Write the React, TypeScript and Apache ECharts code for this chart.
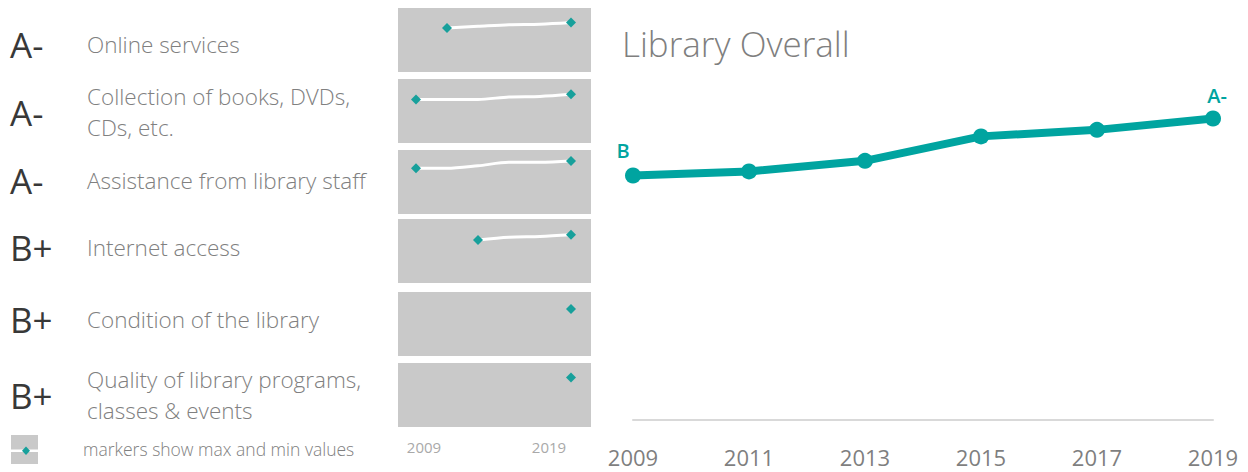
import React, { useEffect, useRef } from "react";
import * as echarts from "echarts";

// ---- data ----
const grades = ["A-", "A-", "A-", "B+", "B+", "B+"];
const categories = [
  "Online services",
  "Collection of books, DVDs,\nCDs, etc.",
  "Assistance from library staff",
  "Internet access",
  "Condition of the library",
  "Quality of library programs,\nclasses & events",
];
const sparkYears = [2009, 2011, 2013, 2015, 2017, 2019];
const sparkOnline = [null, 3.53, 3.57, 3.61, 3.62, 3.66];
const sparkCollection = [3.52, 3.52, 3.52, 3.58, 3.59, 3.64];
const sparkStaff = [3.57, 3.57, 3.63, 3.71, 3.71, 3.74];
const sparkInternet = [null, null, 3.51, 3.57, 3.59, 3.63];
const sparkCondition = [null, null, null, null, null, 3.6];
const sparkPrograms = [null, null, null, null, null, 3.66];
const sparkRows = [sparkOnline, sparkCollection, sparkStaff, sparkInternet, sparkCondition, sparkPrograms];
const sparkAxisLabels = ["2009", "2019"];

const years = ["2009", "2011", "2013", "2015", "2017", "2019"];
const overallScores = [3.0, 3.05, 3.18, 3.48, 3.56, 3.7];
const overallStartGrade = "B";
const overallEndGrade = "A-";
const chartTitle = "Library Overall";
const legendNote = "markers show max and min values";

// ---- style ----
const TEAL = "#00a4a0";
const MARK = "#17a09b";
const PANEL = "#c9c9c9";
const FONT = "'Open Sans', 'Noto Sans', sans-serif";

export default function App() {
  const ref = useRef<HTMLDivElement>(null);

  useEffect(() => {
    if (!ref.current) return;
    const chart = echarts.init(ref.current, undefined, { renderer: "svg" });

    const panelTops = [8, 79, 150, 219, 292, 363];
    const panelH = 64;
    const rowCenters = [44, 112, 180, 247, 319, 395];

    const grids: any[] = [];
    const xAxes: any[] = [];
    const yAxes: any[] = [];
    const series: any[] = [];

    sparkRows.forEach((row, i) => {
      grids.push({
        left: 398,
        top: panelTops[i],
        width: 193,
        height: panelH,
        show: true,
        backgroundColor: PANEL,
        borderWidth: 0,
      });
      xAxes.push({ type: "value", gridIndex: i, min: 2007.84, max: 2020.29, show: false });
      yAxes.push({ type: "value", gridIndex: i, min: 2.5, max: 4.0, show: false });
      const vals = row.map((v) => (v == null ? NaN : v));
      const present = vals.filter((v) => !isNaN(v));
      const mn = Math.min(...present);
      const mx = Math.max(...present);
      const minIdx = vals.indexOf(mn);
      const maxIdx = vals.indexOf(mx);
      const data: any[] = [];
      row.forEach((v, j) => {
        if (v == null) return;
        const isMark = j === minIdx || j === maxIdx;
        data.push({
          value: [sparkYears[j], v],
          symbol: isMark ? "diamond" : "none",
          symbolSize: 10,
          itemStyle: { color: MARK },
        });
      });
      series.push({
        type: "line",
        xAxisIndex: i,
        yAxisIndex: i,
        data,
        smooth: 0.3,
        showSymbol: true,
        symbol: "none",
        lineStyle: { color: "#ffffff", width: 3 },
        itemStyle: { color: MARK },
        silent: true,
        clip: false,
        z: 3,
      });
    });

    // main chart
    grids.push({ left: 633, right: 35, top: 94, bottom: 52 });
    xAxes.push({
      type: "category",
      gridIndex: 6,
      data: years,
      boundaryGap: false,
      axisLine: { show: true, lineStyle: { color: "#d9d9d9", width: 2 } },
      axisTick: { show: false },
      axisLabel: { color: "#7f7f7f", fontSize: 22, fontFamily: FONT, margin: 26 },
      splitLine: { show: false },
    });
    yAxes.push({ type: "value", gridIndex: 6, min: 0, max: 4, show: false });
    series.push({
      type: "line",
      xAxisIndex: 6,
      yAxisIndex: 6,
      data: overallScores.map((v, j) => {
        const item: any = { value: v };
        if (j === 0) {
          item.label = { show: true, formatter: overallStartGrade, position: "top", offset: [-10, -2] };
        } else if (j === overallScores.length - 1) {
          item.label = { show: true, formatter: overallEndGrade, position: "top", offset: [4, 0] };
        }
        return item;
      }),
      symbol: "circle",
      symbolSize: 16,
      lineStyle: { color: TEAL, width: 8 },
      itemStyle: { color: TEAL },
      label: { show: false, color: TEAL, fontSize: 20, fontWeight: 600, fontFamily: FONT },
      clip: false,
      z: 3,
    });

    const graphics: any[] = [];
    grades.forEach((g, i) => {
      graphics.push({
        type: "text",
        x: 10,
        y: rowCenters[i],
        style: {
          text: g,
          fill: "#383838",
          fontSize: 35,
          fontFamily: FONT,
          fontWeight: 400,
          align: "left",
          verticalAlign: "middle",
          textAlign: "left",
          textVerticalAlign: "middle",
        },
      });
      graphics.push({
        type: "text",
        x: 87,
        y: rowCenters[i],
        style: {
          text: categories[i],
          fill: "#808080",
          fontSize: 22.5,
          lineHeight: 31,
          fontFamily: FONT,
          fontWeight: 300,
          align: "left",
          verticalAlign: "middle",
          textAlign: "left",
          textVerticalAlign: "middle",
        },
      });
    });
    [424, 549].forEach((x, k) => {
      graphics.push({
        type: "text",
        x,
        y: 447,
        style: {
          text: sparkAxisLabels[k],
          fill: "#a9a9a9",
          fontSize: 15,
          fontFamily: FONT,
          align: "center",
          verticalAlign: "middle",
          textAlign: "center",
          textVerticalAlign: "middle",
        },
      });
    });
    // legend icon
    graphics.push({ type: "rect", shape: { x: 11, y: 435, width: 27, height: 29 }, style: { fill: PANEL } });
    graphics.push({ type: "rect", shape: { x: 11, y: 449.5, width: 27, height: 2.5 }, style: { fill: "#ffffff" } });
    graphics.push({
      type: "polygon",
      shape: { points: [[26, 446.5], [30, 450.7], [26, 455], [22, 450.7]] },
      style: { fill: MARK },
    });
    graphics.push({
      type: "text",
      x: 83,
      y: 449,
      style: {
        text: legendNote,
        fill: "#808080",
        fontSize: 17.5,
        fontFamily: FONT,
        fontWeight: 300,
        align: "left",
        verticalAlign: "middle",
        textAlign: "left",
        textVerticalAlign: "middle",
      },
    });

    chart.setOption({
      animation: false,
      backgroundColor: "#ffffff",
      title: {
        text: chartTitle,
        left: 617,
        top: 21,
        textStyle: { color: "#7f7f7f", fontSize: 35, fontWeight: 300, fontFamily: FONT },
      },
      grid: grids,
      xAxis: xAxes,
      yAxis: yAxes,
      series,
      graphic: graphics,
    });

    return () => chart.dispose();
  }, []);

  return (
    <div
      ref={ref}
      style={{ position: "fixed", left: 0, top: 0, width: 1248, height: 472, background: "#fff" }}
    />
  );
}
